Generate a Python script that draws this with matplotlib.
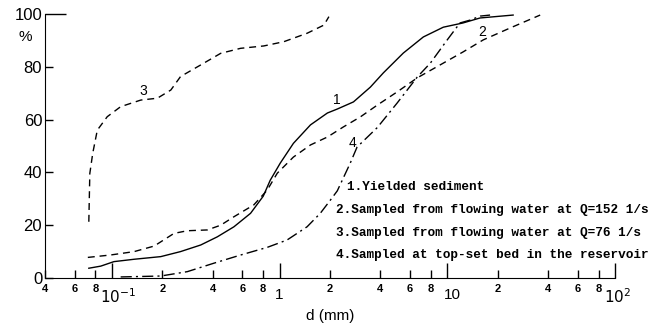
import matplotlib
matplotlib.use("Agg")
import matplotlib.pyplot as plt
import matplotlib.transforms as mtransforms
from matplotlib.ticker import FixedLocator, FixedFormatter

# grain size d (mm) and percent finer
d1 = [0.073, 0.086, 0.103, 0.136, 0.196, 0.257, 0.339, 0.426, 0.535, 0.672, 0.80,
      0.88, 1.01, 1.21, 1.53, 1.93, 2.21, 2.76, 3.48, 4.16, 5.47, 7.2, 9.47, 12.4,
      15.7, 24.7]
p1 = [3.7, 4.5, 6.2, 7.1, 8.1, 10, 12.5, 15.6, 19.4, 24.5, 31,
      37, 43.5, 51, 58, 62.5, 64, 66.7, 72.3, 77.7, 85.2, 91.3, 95, 96.6,
      98.5, 99.6]

d2 = [0.072, 0.098, 0.136, 0.179, 0.235, 0.282, 0.371, 0.446, 0.535, 0.703, 0.845,
      0.97, 1.21, 1.53, 1.93, 2.4, 3.03, 3.83, 5.03, 6.62, 9.06, 12.4, 16.4, 23.7, 35.8]
p2 = [7.8, 8.7, 10, 12.1, 16.9, 17.9, 18.2, 20, 23.2, 27.7, 33.3,
      39.7, 45.8, 50.4, 53.4, 57.2, 61, 65.5, 70.5, 75.8, 80.7, 85.6, 90.2, 94.7, 99.6]

d3 = [0.073, 0.074, 0.077, 0.082, 0.094, 0.113, 0.149, 0.187, 0.225, 0.257, 0.339,
      0.446, 0.586, 0.806, 1.06, 1.46, 1.84, 1.97]
p3 = [21.3, 39.6, 47.2, 56, 61.1, 64.9, 67.4, 68.1, 71.2, 76.3, 80.7,
      85.1, 87, 87.9, 89.5, 92.7, 95.8, 99]

d4 = [0.113, 0.196, 0.282, 0.406, 0.586, 0.845, 1.11, 1.46, 1.75, 2.01, 2.21, 2.64,
      2.9, 3.83, 5.03, 6.62, 7.93, 10.0, 11.9, 13.7, 15.7, 18]
p4 = [0.4, 0.75, 2.4, 5.6, 8.7, 11.6, 14.4, 19.4, 24.5, 29.5, 33, 43.5,
      49.6, 57, 66.3, 76.1, 81.4, 90.2, 96.6, 97.7, 99.2, 99.6]

curve_labels = ["1", "2", "3", "4"]
label_pos = [(2.2, 67.5), (16.2, 93), (0.155, 71), (2.72, 51)]

legend_lines = ["1.Yielded sediment",
                "2.Sampled from flowing water at Q=152 1/s",
                "3.Sampled from flowing water at Q=76 1/s",
                "4.Sampled at top-set bed in the reservoir"]

major_ticks = [0.1, 1, 10, 100]
major_labels = ["$10^{-1}$", "1", "10", "$10^{2}$"]
minor_ticks = [0.04, 0.06, 0.08, 0.2, 0.4, 0.6, 0.8, 2, 4, 6, 8, 20, 40, 60, 80]
minor_labels = ["4", "6", "8", "2", "4", "6", "8", "2", "4", "6", "8", "2", "4", "6", "8"]

plt.rcParams['font.family'] = ['Liberation Sans', 'DejaVu Sans']

fig = plt.figure(figsize=(6.56, 3.23), dpi=100)
W, H = 656, 323
ax = fig.add_axes([45 / W, (H - 278) / H, 570 / W, 264 / H])

ax.plot(d1, p1, color='black', lw=1.0)
ax.plot(d2, p2, color='black', lw=1.0, dashes=(5, 3.5))
ax.plot(d3, p3, color='black', lw=1.0, dashes=(5, 3.5))
ax.plot(d4, p4, color='black', lw=1.0, dashes=(8, 3, 1.5, 3))

for lab, (x, y) in zip(curve_labels, label_pos):
    ax.text(x, y, lab, fontsize=10, ha='center', va='center')

ax.set_xscale('log')
ax.set_xlim(0.04, 100)
ax.set_ylim(0, 100)
ax.spines['top'].set_visible(False)
ax.spines['right'].set_visible(False)

ax.xaxis.set_major_locator(FixedLocator(major_ticks))
ax.xaxis.set_major_formatter(FixedFormatter(major_labels))
ax.xaxis.set_minor_locator(FixedLocator(minor_ticks))
ax.xaxis.set_minor_formatter(FixedFormatter(minor_labels))
ax.tick_params(axis='x', which='major', direction='in', length=11, width=1,
               labelsize=11, pad=7)
ax.tick_params(axis='x', which='minor', direction='in', length=6, width=1,
               labelsize=8, pad=4)
for t in ax.xaxis.get_minor_ticks():
    t.label1.set_fontweight('bold')

# power-of-ten labels sit a little right of their ticks in the original
shifts_px = [6, 0, 5, 3]
for t, dx in zip(ax.xaxis.get_major_ticks(), shifts_px):
    off = mtransforms.ScaledTranslation(dx / 100, 0, fig.dpi_scale_trans)
    t.label1.set_transform(t.label1.get_transform() + off)

ax.set_yticks([0, 20, 40, 60, 80, 100])
ax.set_yticklabels(["0", "20", "40", "60", "80", "100"])
ax.tick_params(axis='y', direction='in', length=6, width=1, labelsize=12, pad=2)
ax.yaxis.get_major_ticks()[-1].tick1line.set_markersize(15)

ax.set_xlabel("d (mm)", fontsize=11, labelpad=2)
fig.text(25 / W, 1 - 37 / H, "%", fontsize=11, ha='center', va='center')

ys = [187, 210, 233, 255]
xs = [347, 336, 336, 336]
for txt, x, y in zip(legend_lines, xs, ys):
    fig.text(x / W, 1 - y / H, txt, fontsize=9.2, family='Liberation Mono',
             fontweight='bold', ha='left', va='center')

fig.savefig("out.png", dpi=100)
